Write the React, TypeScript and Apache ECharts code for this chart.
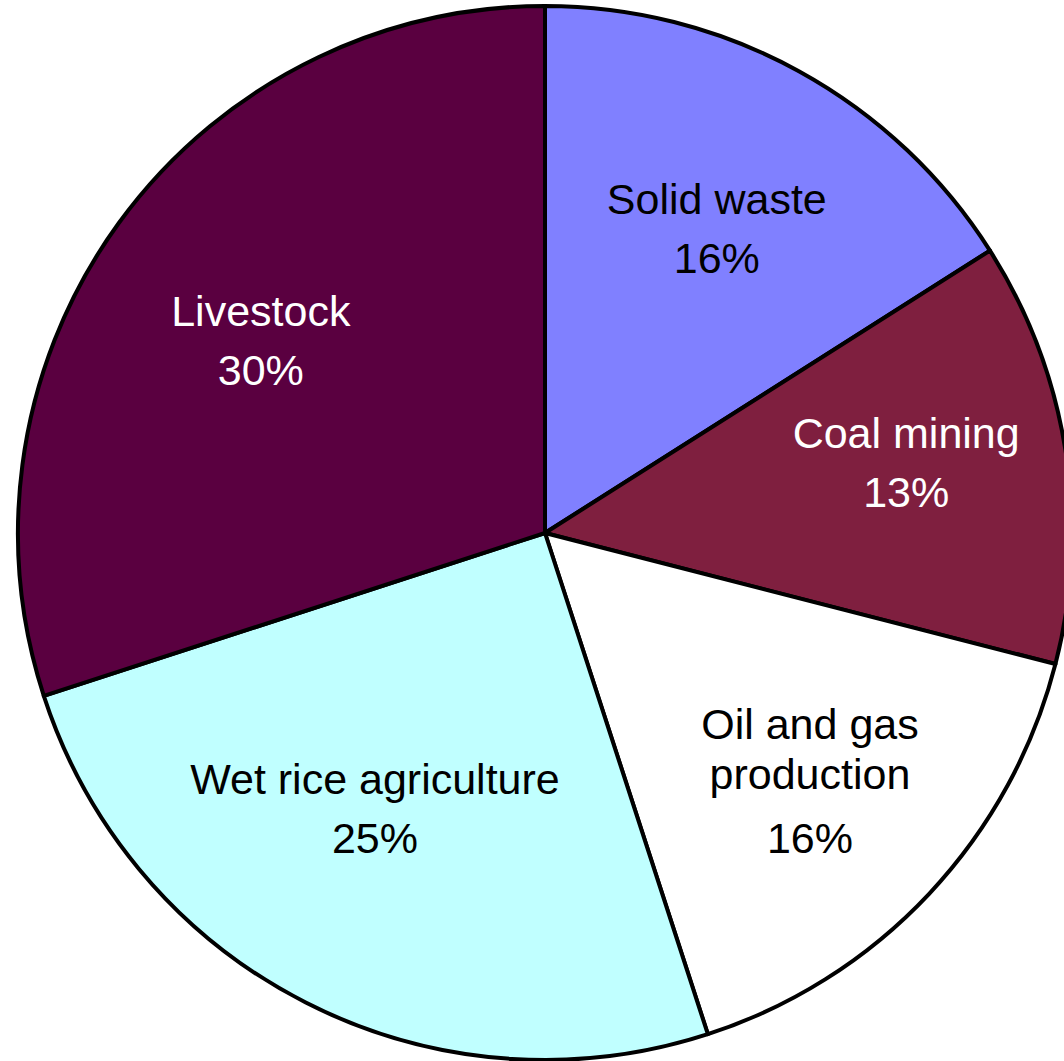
import React, { useEffect, useRef } from "react";
import * as echarts from "echarts";

const categories = [
  "Solid waste",
  "Coal mining",
  "Oil and gas\nproduction",
  "Wet rice agriculture",
  "Livestock",
];
const values = [16, 13, 16, 25, 30];

const sliceColors = ["#8080FF", "#7F1F3F", "#FFFFFF", "#C0FFFF", "#5A0040"];
const labelColors = ["#000000", "#FFFFFF", "#000000", "#000000", "#FFFFFF"];
const labelOffsets = [
  [2, 5],
  [13, -15],
  [8, 5],
  [-10, -38],
  [1, 15],
];

const FONT = "'Liberation Sans', Arial, Helvetica, sans-serif";

export default function App() {
  const ref = useRef<HTMLDivElement>(null);

  useEffect(() => {
    if (!ref.current) return;
    const chart = echarts.init(ref.current, null, { renderer: "svg" });
    const center = [545, 533];
    const R = 527;

    chart.setOption({
      animation: false,
      backgroundColor: "#FFFFFF",
      series: [
        {
          type: "pie",
          silent: true,
          center,
          radius: R,
          startAngle: 90,
          clockwise: true,
          label: { show: false },
          labelLine: { show: false },
          itemStyle: { borderColor: "#000000", borderWidth: 4 },
          data: categories.map((name, i) => ({
            name,
            value: values[i],
            itemStyle: { color: sliceColors[i] },
          })),
        },
        {
          type: "pie",
          silent: true,
          center,
          radius: [172, R],
          startAngle: 90,
          clockwise: true,
          itemStyle: { color: "rgba(0,0,0,0)", borderWidth: 0 },
          labelLine: { show: false },
          label: {
            show: true,
            position: "inside",
            padding: [18, 0, 0, 0],
            formatter: (p: any) => {
              const lines = String(p.name).split("\n");
              const tag = lines.length > 1 ? "m" : "n";
              return (
                lines.map((l: string) => `{${tag}|${l}}`).join("\n") +
                `\n{p|${Math.round(p.percent)}%}`
              );
            },
            rich: {
              n: { fontFamily: FONT, fontSize: 43, lineHeight: 40, align: "center" },
              m: { fontFamily: FONT, fontSize: 43, lineHeight: 50, align: "center" },
              p: { fontFamily: FONT, fontSize: 43, lineHeight: 78, align: "center" },
            },
          },
          data: categories.map((name, i) => ({
            name,
            value: values[i],
            label: {
              offset: labelOffsets[i],
              rich: {
                n: { color: labelColors[i] },
                m: { color: labelColors[i] },
                p: { color: labelColors[i] },
              },
            },
          })),
        },
      ],
    });
    return () => chart.dispose();
  }, []);

  return (
    <div
      ref={ref}
      style={{ position: "absolute", left: 0, top: 0, width: 1064, height: 1061 }}
    />
  );
}
